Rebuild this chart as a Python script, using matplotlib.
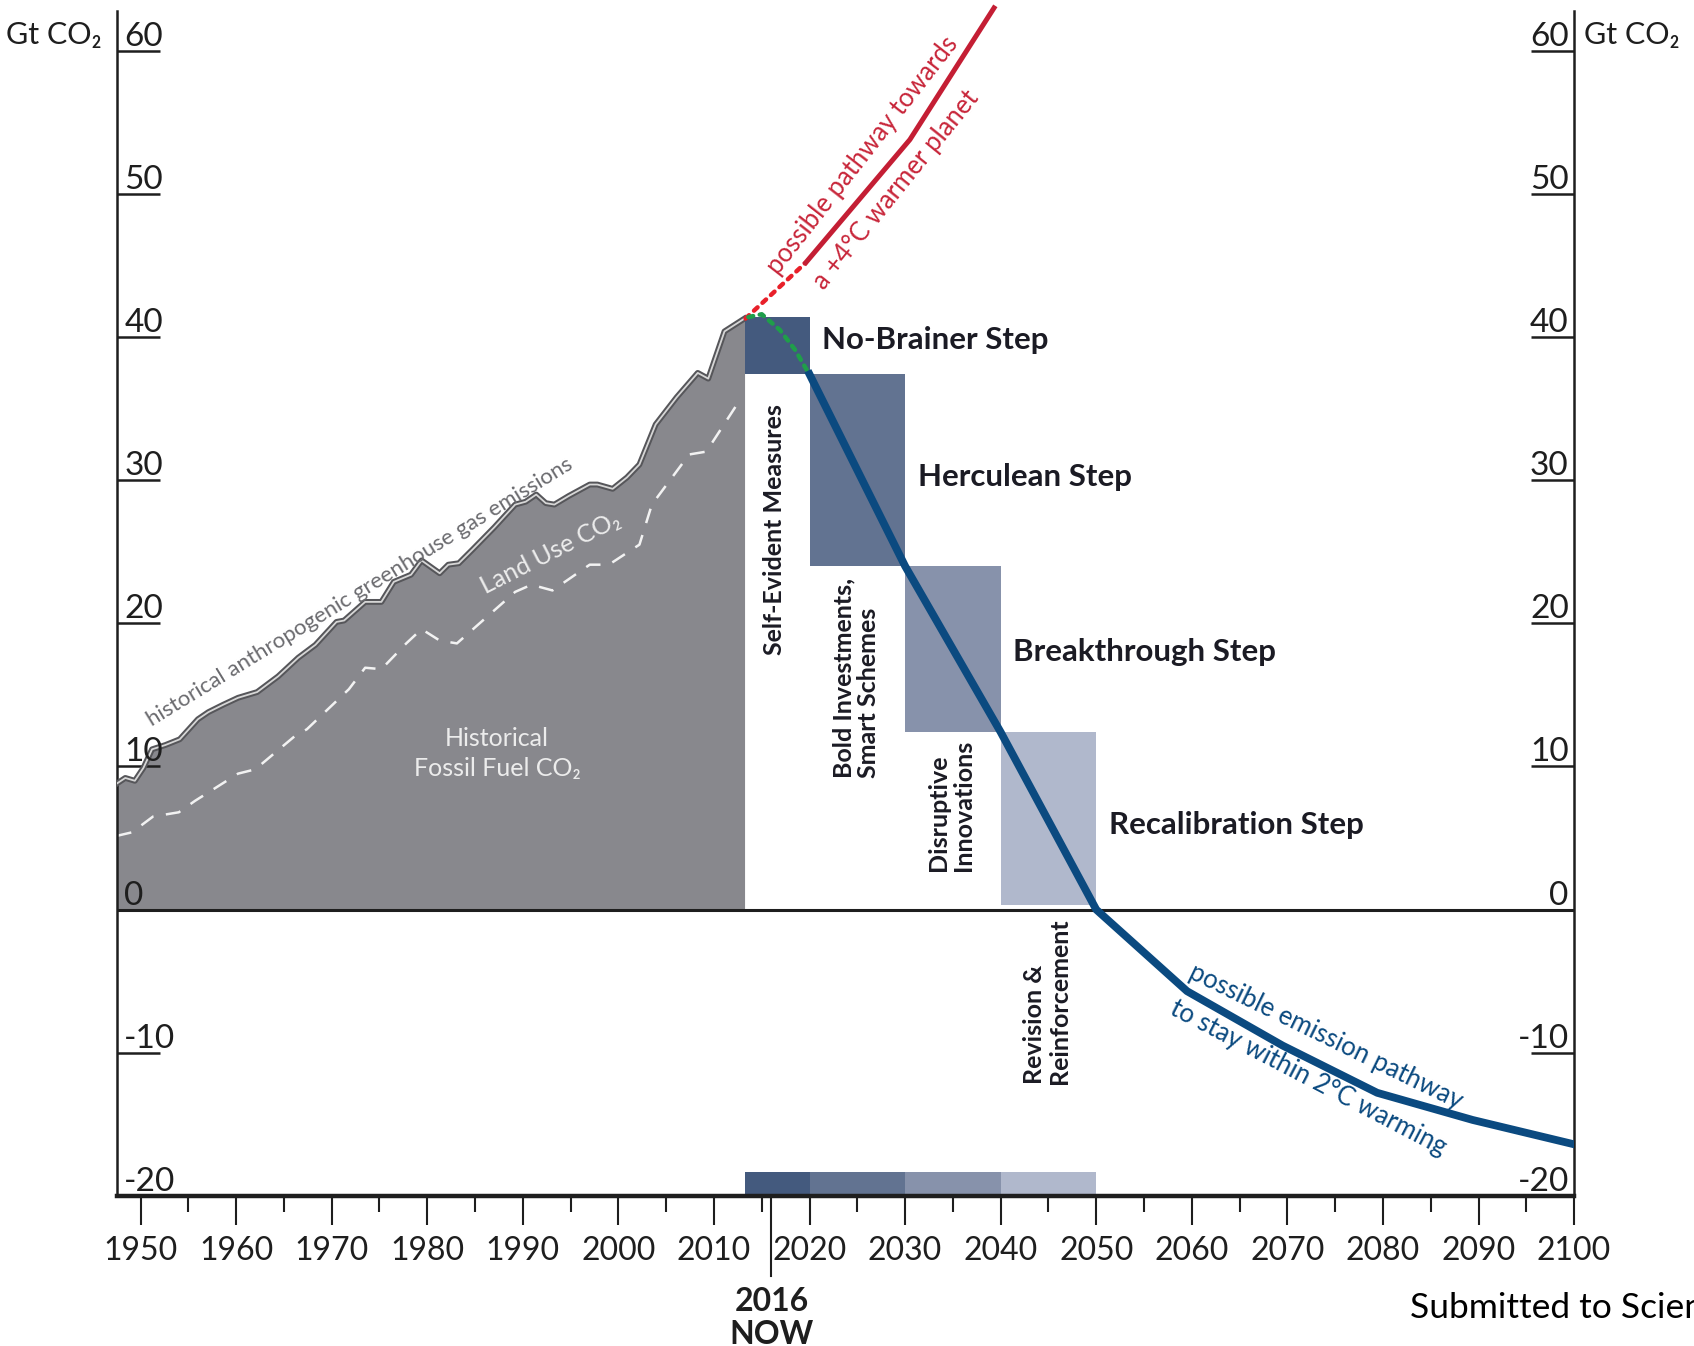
import matplotlib
matplotlib.use('Agg')
import matplotlib.pyplot as plt
import matplotlib.transforms as mtransforms

plt.rcParams['font.family'] = ['Lato', 'DejaVu Sans']

# historical anthropogenic emissions (top of grey area), Gt CO2
hist_years = [1947.5, 1948.4, 1949.4, 1950.3, 1951.2, 1952.6, 1954.1, 1956.0, 1957.1,
              1958.6, 1960.2, 1962.2, 1964.4, 1966.5, 1968.3, 1970.5, 1971.3, 1973.5,
              1975.2, 1976.5, 1978.3, 1979.4, 1981.3, 1982.2, 1983.3, 1984.8, 1987.0,
              1989.2, 1990.3, 1991.4, 1992.4, 1993.3, 1994.8, 1997.0, 1997.8, 1999.4,
              2000.9, 2002.2, 2003.9, 2006.1, 2008.3, 2009.4, 2011.1, 2013.2]
hist_total = [8.8, 9.2, 9.0, 9.9, 11.2, 11.5, 11.9, 13.3, 13.8,
              14.3, 14.8, 15.2, 16.3, 17.6, 18.5, 20.1, 20.2, 21.5,
              21.5, 22.9, 23.4, 24.4, 23.5, 24.1, 24.2, 25.2, 26.7,
              28.3, 28.5, 29.0, 28.4, 28.3, 28.9, 29.7, 29.7, 29.4,
              30.2, 31.1, 33.9, 35.8, 37.5, 37.1, 40.4, 41.3]

# fossil fuel part (dashed boundary to land use CO2)
fossil_years = [1947.5, 1949.1, 1951.3, 1954.0, 1955.7, 1960.2, 1962.0, 1966.1, 1967.4,
                1971.8, 1973.5, 1975.2, 1977.8, 1979.4, 1981.3, 1983.1, 1989.2, 1990.9,
                1993.1, 1997.0, 1999.0, 2002.2, 2003.5, 2007.4, 2009.2, 2012.9]
fossil_vals = [5.15, 5.4, 6.5, 6.8, 7.6, 9.5, 9.8, 12.1, 12.6,
               15.4, 16.9, 16.8, 18.6, 19.6, 18.8, 18.6, 22.2, 22.7,
               22.3, 24.1, 24.1, 25.5, 28.3, 31.8, 32.0, 35.8]

# four steps
step_names = ['No-Brainer Step', 'Herculean Step', 'Breakthrough Step', 'Recalibration Step']
measure_names = ['Self-Evident Measures', 'Bold Investments,\nSmart Schemes',
                 'Disruptive\nInnovations', 'Revision &\nReinforcement']
step_start = [2013.2, 2020, 2030, 2040]
step_end = [2020, 2030, 2040, 2050]
step_top = [41.4, 37.4, 24.0, 12.4]
step_bottom = [37.4, 24.0, 12.4, 0.35]
step_colors = ['#445a7e', '#627391', '#8792ab', '#b0b8cc']

# pathways
path2_years = [2020, 2030, 2040, 2050, 2059.5, 2069.5, 2079.4, 2089.4, 2100]
path2_vals = [37.4, 24.0, 12.4, 0.0, -5.7, -9.5, -12.8, -14.7, -16.4]
path4_dot_years = [2013.3, 2019.6]
path4_dot_vals = [41.3, 45.2]
path4_years = [2019.6, 2030.5, 2039.3]
path4_vals = [45.2, 53.8, 63.0]
green_years = [2013.6, 2015.0, 2016.9, 2018.5, 2019.8]
green_vals = [41.4, 41.6, 40.5, 39.1, 37.6]

y_ticks = [60, 50, 40, 30, 20, 10, 0, -10, -20]
x_major = list(range(1950, 2101, 10))
x_minor = list(range(1955, 2100, 10))

fig = plt.figure(figsize=(16.94, 13.46), dpi=100)
ax = fig.add_axes([0.06888, 0.11156, 0.86033, 0.88041])
ax.set_xlim(1947.5, 2100)
ax.set_ylim(-20, 62.8)

# historical area
ax.fill_between(hist_years, 0, hist_total, color='#88888d', lw=0, zorder=1)
ax.plot(fossil_years, fossil_vals, color='#f2f2f2', lw=1.8, dashes=(6, 5), zorder=2)
ax.plot(hist_years, hist_total, color='#56565a', lw=4.2, zorder=3, solid_joinstyle='round')
ax.plot(hist_years, hist_total, color='#d6d6d6', lw=1.3, zorder=3)

# step boxes and bottom strip
widths = [e - s for s, e in zip(step_start, step_end)]
heights = [t - b for t, b in zip(step_top, step_bottom)]
ax.bar(step_start, heights, width=widths, bottom=step_bottom, align='edge',
       color=step_colors, lw=0, zorder=2)
ax.bar(step_start, 1.65, width=widths, bottom=-20, align='edge',
       color=step_colors, lw=0, zorder=2)

# zero line
ax.axhline(0, color='#1e1e1e', lw=2.2, zorder=3)

# pathways
ax.plot(path4_dot_years, path4_dot_vals, color='#e8202a', lw=3.2,
        linestyle=(0, (1.1, 1.5)), dash_capstyle='round', zorder=4)
ax.plot(path4_years, path4_vals, color='#c41e34', lw=3.6, zorder=4, clip_on=False)
ax.plot(green_years, green_vals, color='#1f9e4a', lw=3.2,
        linestyle=(0, (1.1, 1.5)), dash_capstyle='round', zorder=5)
ax.plot(path2_years, path2_vals, color='#0b4a80', lw=5.6, zorder=5,
        solid_joinstyle='round')

# step labels
step_label_y = [39.8, 30.2, 18.0, 5.9]
for x, y, name in zip(step_end, step_label_y, step_names):
    ax.text(x + 1.3, y, name, fontsize=22.5, fontweight='bold', color='#1b1b24',
            ha='left', va='center', zorder=6)

measure_x = [2016.35, 2024.9, 2034.8, 2044.8]
measure_y = [17.8, 9.2, 2.7, -12.2]
for x, y, name in zip(measure_x, measure_y, measure_names):
    ax.text(x, y, name, rotation=90, rotation_mode='anchor', fontsize=18,
            fontweight='bold', color='#1b1b24', ha='left', va='center',
            multialignment='left', linespacing=1.1, zorder=6)

# annotations on curves
ax.text(1973.0, 22.2, 'historical anthropogenic greenhouse gas emissions', rotation=31.5,
        rotation_mode='anchor', ha='center', va='center', fontsize=16, color='#6a6a6e')
ax.text(1992.9, 24.9, 'Land Use CO₂', rotation=27, rotation_mode='anchor',
        ha='center', va='center', fontsize=18, color='#ececec')
ax.text(1987.3, 10.9, 'Historical\nFossil Fuel CO₂', ha='center', va='center',
        fontsize=18, color='#ececec', linespacing=1.4)
ax.text(2025.6, 52.7, 'possible pathway towards', rotation=52, rotation_mode='anchor',
        ha='center', va='center', fontsize=18.5, color='#c8263a')
ax.text(2029.1, 50.3, 'a +4°C warmer planet', rotation=51, rotation_mode='anchor',
        ha='center', va='center', fontsize=18.5, color='#c8263a')
ax.text(2074.0, -8.9, 'possible emission pathway', rotation=-26, rotation_mode='anchor',
        ha='center', va='center', fontsize=18.5, color='#0b4a80')
ax.text(2072.2, -11.8, 'to stay within 2°C warming', rotation=-27.5, rotation_mode='anchor',
        ha='center', va='center', fontsize=18.5, color='#0b4a80')

# spines
ax.spines['top'].set_visible(False)
ax.spines['left'].set_linewidth(1.8)
ax.spines['right'].set_linewidth(1.8)
ax.spines['bottom'].set_linewidth(3.2)
for side in ['left', 'right', 'bottom']:
    ax.spines[side].set_color('#1e1e1e')

# y ticks: inward, with labels sitting on top of them
ax.set_yticks(y_ticks)
ax.tick_params(axis='y', which='both', direction='in', length=31, width=1.8,
               color='#1e1e1e', left=True, right=True, labelleft=False, labelright=False)
ytrans = mtransforms.blended_transform_factory(ax.transAxes, ax.transData)
for v in y_ticks:
    ax.text(0.0052, v + 0.35, str(v), transform=ytrans, ha='left', va='baseline',
            fontsize=24, color='#1e1e1e')
    ax.text(0.9963, v + 0.35, str(v), transform=ytrans, ha='right', va='baseline',
            fontsize=24, color='#1e1e1e')

# x ticks
ax.set_xticks(x_major)
ax.set_xticklabels([str(v) for v in x_major])
ax.set_xticks(x_minor, minor=True)
ax.tick_params(axis='x', which='major', direction='out', length=21, width=1.5,
               color='#1e1e1e', labelsize=23, pad=8, labelcolor='#1e1e1e')
ax.tick_params(axis='x', which='minor', direction='out', length=11.5, width=1.5,
               color='#1e1e1e')
ax.plot([2016, 2016], [-20, -25.6], color='#1e1e1e', lw=1.5, clip_on=False)

xtrans = mtransforms.blended_transform_factory(ax.transData, fig.transFigure)
ax.text(2016, 0.033, '2016', transform=xtrans, ha='center', va='center',
        fontsize=23, fontweight='bold', color='#1e1e1e')
ax.text(2016, 0.0085, 'NOW', transform=xtrans, ha='center', va='center',
        fontsize=23, fontweight='bold', color='#1e1e1e')

fig.text(0.0319, 0.974, 'Gt CO₂', ha='center', va='center', fontsize=22, color='#1e1e1e')
fig.text(0.935, 0.974, 'Gt CO₂', ha='left', va='center', fontsize=22, color='#1e1e1e')
fig.text(0.8323, 0.028, 'Submitted to Science', ha='left', va='center', fontsize=25.5,
         color='#000000')

fig.savefig('out.png', dpi=100)
